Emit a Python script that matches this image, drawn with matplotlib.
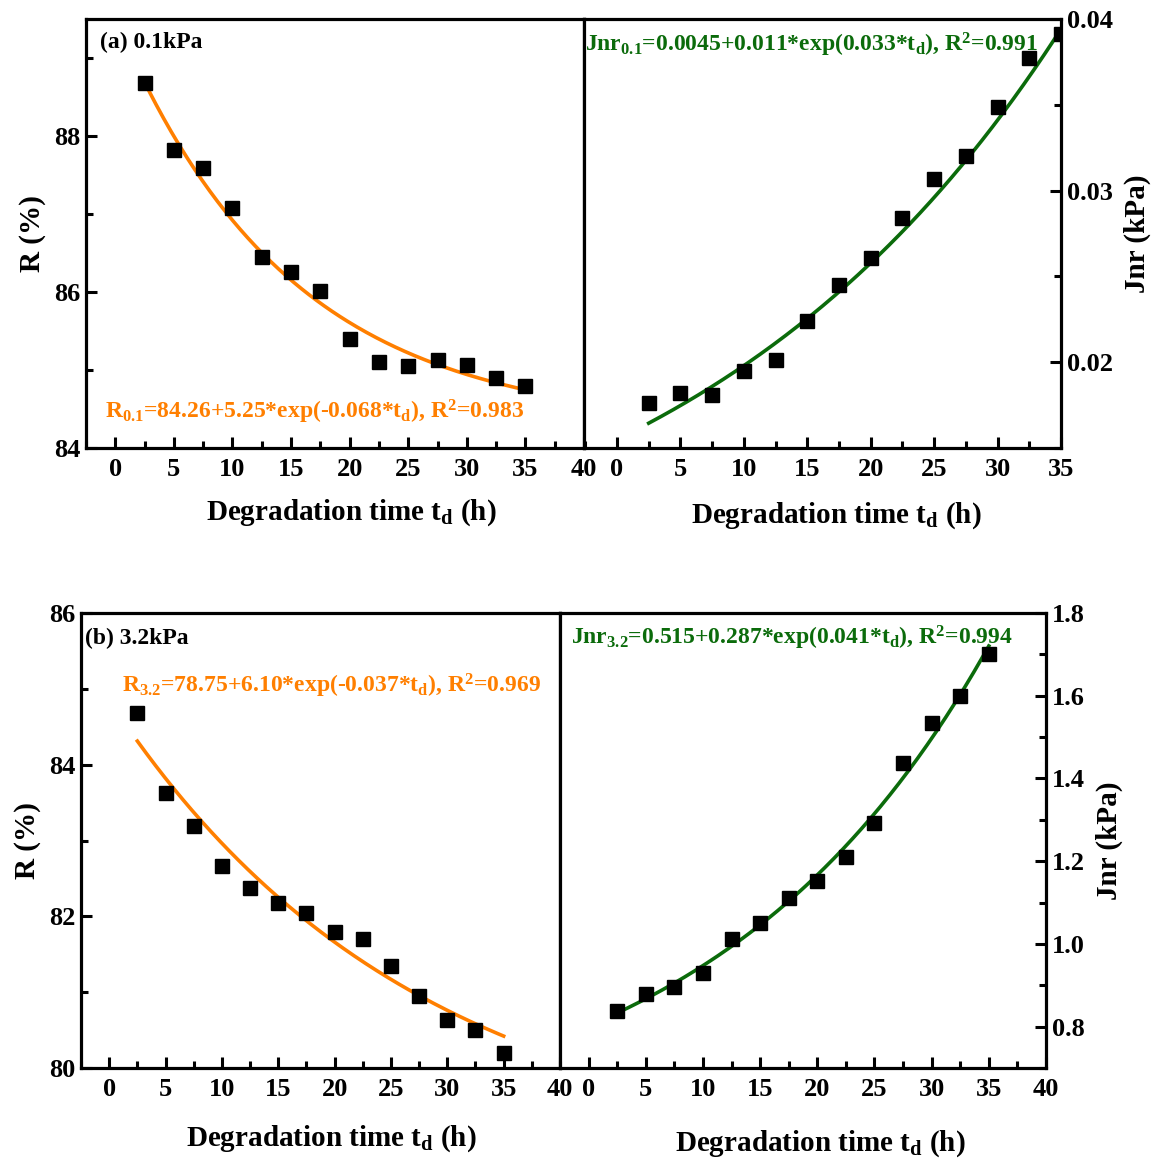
import numpy as np
import matplotlib
matplotlib.use('Agg')
import matplotlib.pyplot as plt
from matplotlib.ticker import MultipleLocator, FormatStrFormatter

# -------------------------------
# Data
# -------------------------------
t_d = [2.5, 5, 7.5, 10, 12.5, 15, 17.5, 20, 22.5, 25, 27.5, 30, 32.5, 35]

R_01 = [88.68, 87.82, 87.59, 87.08, 86.45, 86.26, 86.01, 85.40, 85.10, 85.05,
        85.13, 85.07, 84.90, 84.79]
Jnr_01 = [0.0176, 0.0182, 0.0181, 0.0195, 0.0201, 0.0224, 0.0245, 0.0261,
          0.0284, 0.0307, 0.0320, 0.0349, 0.0377, 0.0391]
R_32 = [84.68, 83.62, 83.19, 82.67, 82.38, 82.18, 82.04, 81.80, 81.70, 81.35,
        80.95, 80.63, 80.50, 80.20]
Jnr_32 = [0.837, 0.879, 0.896, 0.929, 1.013, 1.051, 1.111, 1.152, 1.209, 1.293,
          1.437, 1.534, 1.600, 1.702]

# exponential fit parameters y0 + A*exp(k*t), as printed on the chart
fit_R01 = (84.26, 5.25, -0.068)
fit_J01 = (0.0045, 0.011, 0.033)
fit_R32 = (78.75, 6.10, -0.037)
fit_J32 = (0.515, 0.287, 0.041)

eq_R01 = 'R$_{0.1}$=84.26+5.25*exp(-0.068*t$_d$), R$^2$=0.983'
eq_J01 = 'Jnr$_{0.1}$=0.0045+0.011*exp(0.033*t$_d$), R$^2$=0.991'
eq_R32 = 'R$_{3.2}$=78.75+6.10*exp(-0.037*t$_d$), R$^2$=0.969'
eq_J32 = 'Jnr$_{3.2}$=0.515+0.287*exp(0.041*t$_d$), R$^2$=0.994'

ORANGE = '#FF7F00'
GREEN = '#0B6B0B'

plt.rcParams['font.family'] = ['Liberation Serif', 'DejaVu Serif']
plt.rcParams['font.weight'] = 'bold'
plt.rcParams['mathtext.fontset'] = 'custom'
plt.rcParams['mathtext.rm'] = 'Liberation Serif:bold'
plt.rcParams['mathtext.it'] = 'Liberation Serif:bold'
plt.rcParams['mathtext.bf'] = 'Liberation Serif:bold'

W, H = 1153, 1161
fig = plt.figure(figsize=(W / 100, H / 100), dpi=100)

TICK_FS = 19
LAB_FS = 21
EQ_FS = 17


def px_axes(x0, x1, y0, y1):
    # pixel box (from top-left) -> figure axes
    return fig.add_axes([x0 / W, (H - y1) / H, (x1 - x0) / W, (y1 - y0) / H])


def style(ax, side, xlab_pad, xlab_x):
    for s in ax.spines.values():
        s.set_linewidth(2.3)
    ax.xaxis.set_major_locator(MultipleLocator(5))
    ax.xaxis.set_minor_locator(MultipleLocator(2.5))
    ax.tick_params(which='both', direction='in', top=False, width=2.2,
                   labelsize=TICK_FS, pad=7)
    ax.tick_params(which='major', length=8)
    ax.tick_params(which='minor', length=5)
    ax.tick_params(axis='y', pad=4)
    if side == 'right':
        ax.yaxis.tick_right()
        ax.yaxis.set_label_position('right')
        ax.tick_params(axis='y', which='both', left=False, right=True)
        ax.set_ylabel('Jnr (kPa)', fontsize=LAB_FS, fontweight='bold', labelpad=8)
    else:
        ax.tick_params(axis='y', which='both', right=False)
        ax.set_ylabel('R (%)', fontsize=LAB_FS, fontweight='bold', labelpad=6)
    ax.set_xlabel('Degradation time t$_d$ (h)', fontsize=LAB_FS, fontweight='bold',
                  labelpad=xlab_pad)
    ax.xaxis.label.set_x(xlab_x)
    for lab in ax.get_xticklabels() + ax.get_yticklabels():
        lab.set_fontweight('bold')


def draw(ax, y, fit, color):
    ax.plot(t_d, y, 's', color='black', markersize=9.5, zorder=3)
    tt = np.linspace(t_d[0], t_d[-1], 200)
    ax.plot(tt, fit[0] + fit[1] * np.exp(fit[2] * tt), '-', color=color,
            linewidth=2.6, zorder=2)


# -------------------------------
# (a) 0.1 kPa
# -------------------------------
ax1 = px_axes(86, 584, 19, 448)
draw(ax1, R_01, fit_R01, ORANGE)
ax1.set_xlim(-2.5, 40)
ax1.set_ylim(84, 89.5)
ax1.yaxis.set_major_locator(MultipleLocator(2))
ax1.yaxis.set_minor_locator(MultipleLocator(1))
style(ax1, 'left', 12, 0.532)
ax1.text(0.028, 0.945, '(a) 0.1kPa', transform=ax1.transAxes, fontsize=EQ_FS,
         fontweight='bold', va='center')
ax1.text(0.038, 0.085, eq_R01, transform=ax1.transAxes, fontsize=EQ_FS,
         fontweight='bold', color=ORANGE, va='center')

ax2 = px_axes(584, 1061, 19, 448)
draw(ax2, Jnr_01, fit_J01, GREEN)
ax2.set_xlim(-2.6, 35)
ax2.set_ylim(0.015, 0.04)
ax2.yaxis.set_major_locator(MultipleLocator(0.01))
ax2.yaxis.set_minor_locator(MultipleLocator(0.005))
ax2.yaxis.set_major_formatter(FormatStrFormatter('%.2f'))
style(ax2, 'right', 14, 0.528)
ax2.text(0.002, 0.94, eq_J01, transform=ax2.transAxes, fontsize=EQ_FS,
         fontweight='bold', color=GREEN, va='center')

# -------------------------------
# (b) 3.2 kPa
# -------------------------------
ax3 = px_axes(81, 560, 613, 1068)
draw(ax3, R_32, fit_R32, ORANGE)
ax3.set_xlim(-2.5, 40)
ax3.set_ylim(80, 86)
ax3.yaxis.set_major_locator(MultipleLocator(2))
ax3.yaxis.set_minor_locator(MultipleLocator(1))
style(ax3, 'left', 16, 0.522)
ax3.text(0.008, 0.945, '(b) 3.2kPa', transform=ax3.transAxes, fontsize=EQ_FS,
         fontweight='bold', va='center')
ax3.text(0.085, 0.84, eq_R32, transform=ax3.transAxes, fontsize=EQ_FS,
         fontweight='bold', color=ORANGE, va='center')

ax4 = px_axes(560, 1046, 613, 1068)
draw(ax4, Jnr_32, fit_J32, GREEN)
ax4.set_xlim(-2.5, 40)
ax4.set_ylim(0.7, 1.8)
ax4.yaxis.set_major_locator(MultipleLocator(0.2))
ax4.yaxis.set_minor_locator(MultipleLocator(0.1))
ax4.yaxis.set_major_formatter(FormatStrFormatter('%.1f'))
style(ax4, 'right', 20, 0.535)
ax4.text(0.022, 0.945, eq_J32, transform=ax4.transAxes, fontsize=EQ_FS,
         fontweight='bold', color=GREEN, va='center')

fig.savefig('out.png', dpi=100)
